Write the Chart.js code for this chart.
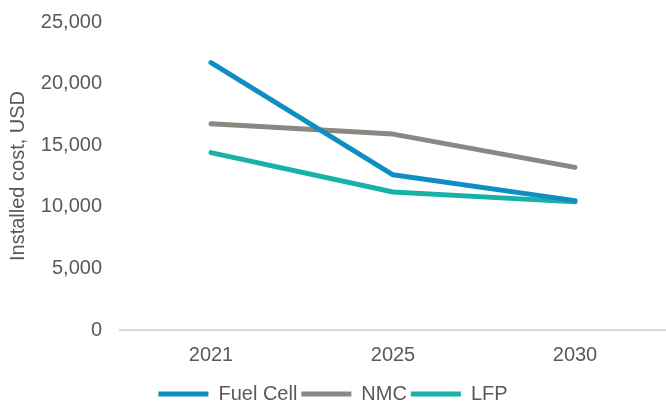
<!DOCTYPE html>
<html>
<head>
<meta charset="utf-8">
<script src="https://cdn.jsdelivr.net/npm/chart.js@4/dist/chart.umd.min.js"></script>
<style>
  html, body { margin: 0; padding: 0; background: #fff; }
  #wrap { width: 666px; height: 403px; }
</style>
</head>
<body>
<div id="wrap"><canvas id="myChartCout"></canvas></div>
<script>
// Installed cost per technology
const annees = ["2021", "2025", "2030"];
const coutFuelCell = [21700, 12600, 10500];
const coutNMC = [16750, 15900, 13200];
const coutLFP = [14400, 11200, 10400];

const couleurFuelCell = "#0f8fc1";
const couleurNMC = "#8c8780";
const couleurLFP = "#17b2a7";

Chart.defaults.font.family = "'Liberation Sans', Arial, sans-serif";
Chart.defaults.color = "#595959";

const serie = (label, data, couleur) => ({
  label,
  data,
  borderColor: couleur,
  backgroundColor: couleur,
  borderWidth: 5,
  borderCapStyle: "round",
  borderJoinStyle: "round",
  pointRadius: 0,
  pointStyle: "line",
  tension: 0,
});

const ctx = document.getElementById("myChartCout").getContext("2d");

new Chart(ctx, {
  type: "line",
  data: {
    labels: annees,
    datasets: [
      serie("Fuel Cell", coutFuelCell, couleurFuelCell),
      serie("NMC", coutNMC, couleurNMC),
      serie("LFP", coutLFP, couleurLFP),
    ],
  },
  options: {
    responsive: true,
    maintainAspectRatio: false,
    animation: { duration: 0 },
    layout: { padding: { top: 0, right: 0, left: 0, bottom: -11 } },
    plugins: {
      tooltip: { enabled: false },
      legend: {
        position: "bottom",
        labels: {
          usePointStyle: true,
          pointStyleWidth: 50,
          boxHeight: 10,
          padding: 4,
          font: { size: 20 },
          color: "#595959",
        },
      },
    },
    scales: {
      x: {
        offset: true,
        grid: { display: false, drawTicks: false },
        border: { display: true, color: "#d9d9d9", width: 2 },
        ticks: { font: { size: 20 }, padding: 13 },
      },
      y: {
        min: 0,
        max: 25000,
        grid: { display: false, drawTicks: false },
        border: { display: false },
        afterFit: (scale) => {
          scale.width = 120;
          scale.paddingTop = 22;
        },
        ticks: {
          stepSize: 5000,
          font: { size: 20 },
          padding: 18,
          callback: (v) => v.toLocaleString("en-US"),
        },
        title: {
          display: true,
          text: "Installed cost, USD",
          font: { size: 20 },
          color: "#595959",
          padding: { top: 6, bottom: 0 },
        },
      },
    },
  },
});
</script>
</body>
</html>
